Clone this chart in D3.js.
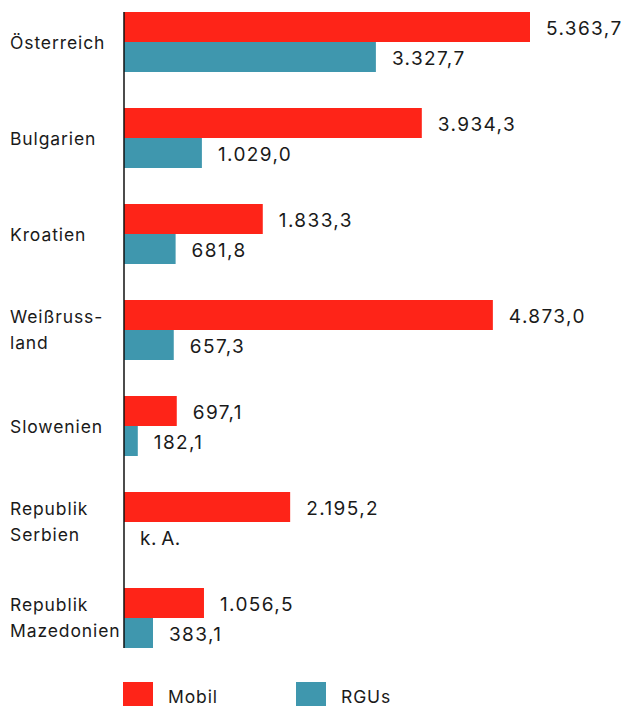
<!DOCTYPE html>
<html>
<head>
<meta charset="utf-8">
<script src="https://cdnjs.cloudflare.com/ajax/libs/d3/7.8.5/d3.min.js"></script>
<style>
  body { margin: 0; background: #fff; }
  text { font-family: Inter, "Noto Sans", sans-serif; fill: #1a1a1a; }
</style>
</head>
<body>
<div id="chart"></div>
<script>
// data
const countries = [["Österreich"], ["Bulgarien"], ["Kroatien"], ["Weißruss-", "land"], ["Slowenien"], ["Republik", "Serbien"], ["Republik", "Mazedonien"]];
const mobil = [5363.7, 3934.3, 1833.3, 4873.0, 697.1, 2195.2, 1056.5];
const rgus = [3327.7, 1029.0, 681.8, 657.3, 182.1, null, 383.1];
const seriesNames = ["Mobil", "RGUs"];
const colors = ["#fe2418", "#3f97ae"];

const width = 624, height = 706;
const svg = d3.select("#chart").append("svg").attr("width", width).attr("height", height);

const locale = d3.formatLocale({ decimal: ",", thousands: ".", grouping: [3], currency: ["", "€"] });
const fmt = locale.format(",.1f");

const x = d3.scaleLinear().domain([0, d3.max(mobil)]).range([124, 530]);
const y = d3.scaleBand().domain(d3.range(countries.length)).range([12, 648]).paddingInner(0.375).paddingOuter(0);
// two bars per group
const sub = d3.scaleBand().domain([0, 1]).range([0, y.bandwidth()]);

const series = [mobil, rgus];

series.forEach(function(vals, s) {
  vals.forEach(function(v, i) {
    const yy = y(i) + sub(s);
    if (v !== null) {
      svg.append("rect")
        .attr("x", x(0))
        .attr("y", yy)
        .attr("width", x(v) - x(0))
        .attr("height", sub.bandwidth())
        .attr("fill", colors[s]);
    }
    svg.append("text")
      .attr("x", v === null ? x(0) + 16 : x(v) + 16)
      .attr("y", yy + sub.bandwidth() / 2 + 8)
      .attr("font-size", 19)
      .attr("letter-spacing", v === null ? 0.6 : 1.4)
      .text(v === null ? "k.\u2009A." : fmt(v));
  });
});

// axis line
svg.append("line")
  .attr("x1", x(0)).attr("x2", x(0))
  .attr("y1", y(0)).attr("y2", y(countries.length - 1) + y.bandwidth())
  .attr("stroke", "#111").attr("stroke-width", 1.5);

// country labels
countries.forEach(function(lines, i) {
  const cy = y(i) + y.bandwidth() / 2;
  const t = svg.append("text").attr("font-size", 17.5).attr("letter-spacing", 0.9);
  lines.forEach(function(l, k) {
    t.append("tspan")
      .attr("x", 10)
      .attr("y", lines.length === 1 ? cy + 7 : cy - 7 + k * 26)
      .text(l);
  });
});

// legend
const legendX = [123, 296];
seriesNames.forEach(function(n, s) {
  svg.append("rect").attr("x", legendX[s]).attr("y", 682).attr("width", 30).attr("height", 24).attr("fill", colors[s]);
  svg.append("text").attr("x", legendX[s] + 45).attr("y", 703).attr("font-size", 17.5).attr("letter-spacing", 0.9).text(n);
});
</script>
</body>
</html>
